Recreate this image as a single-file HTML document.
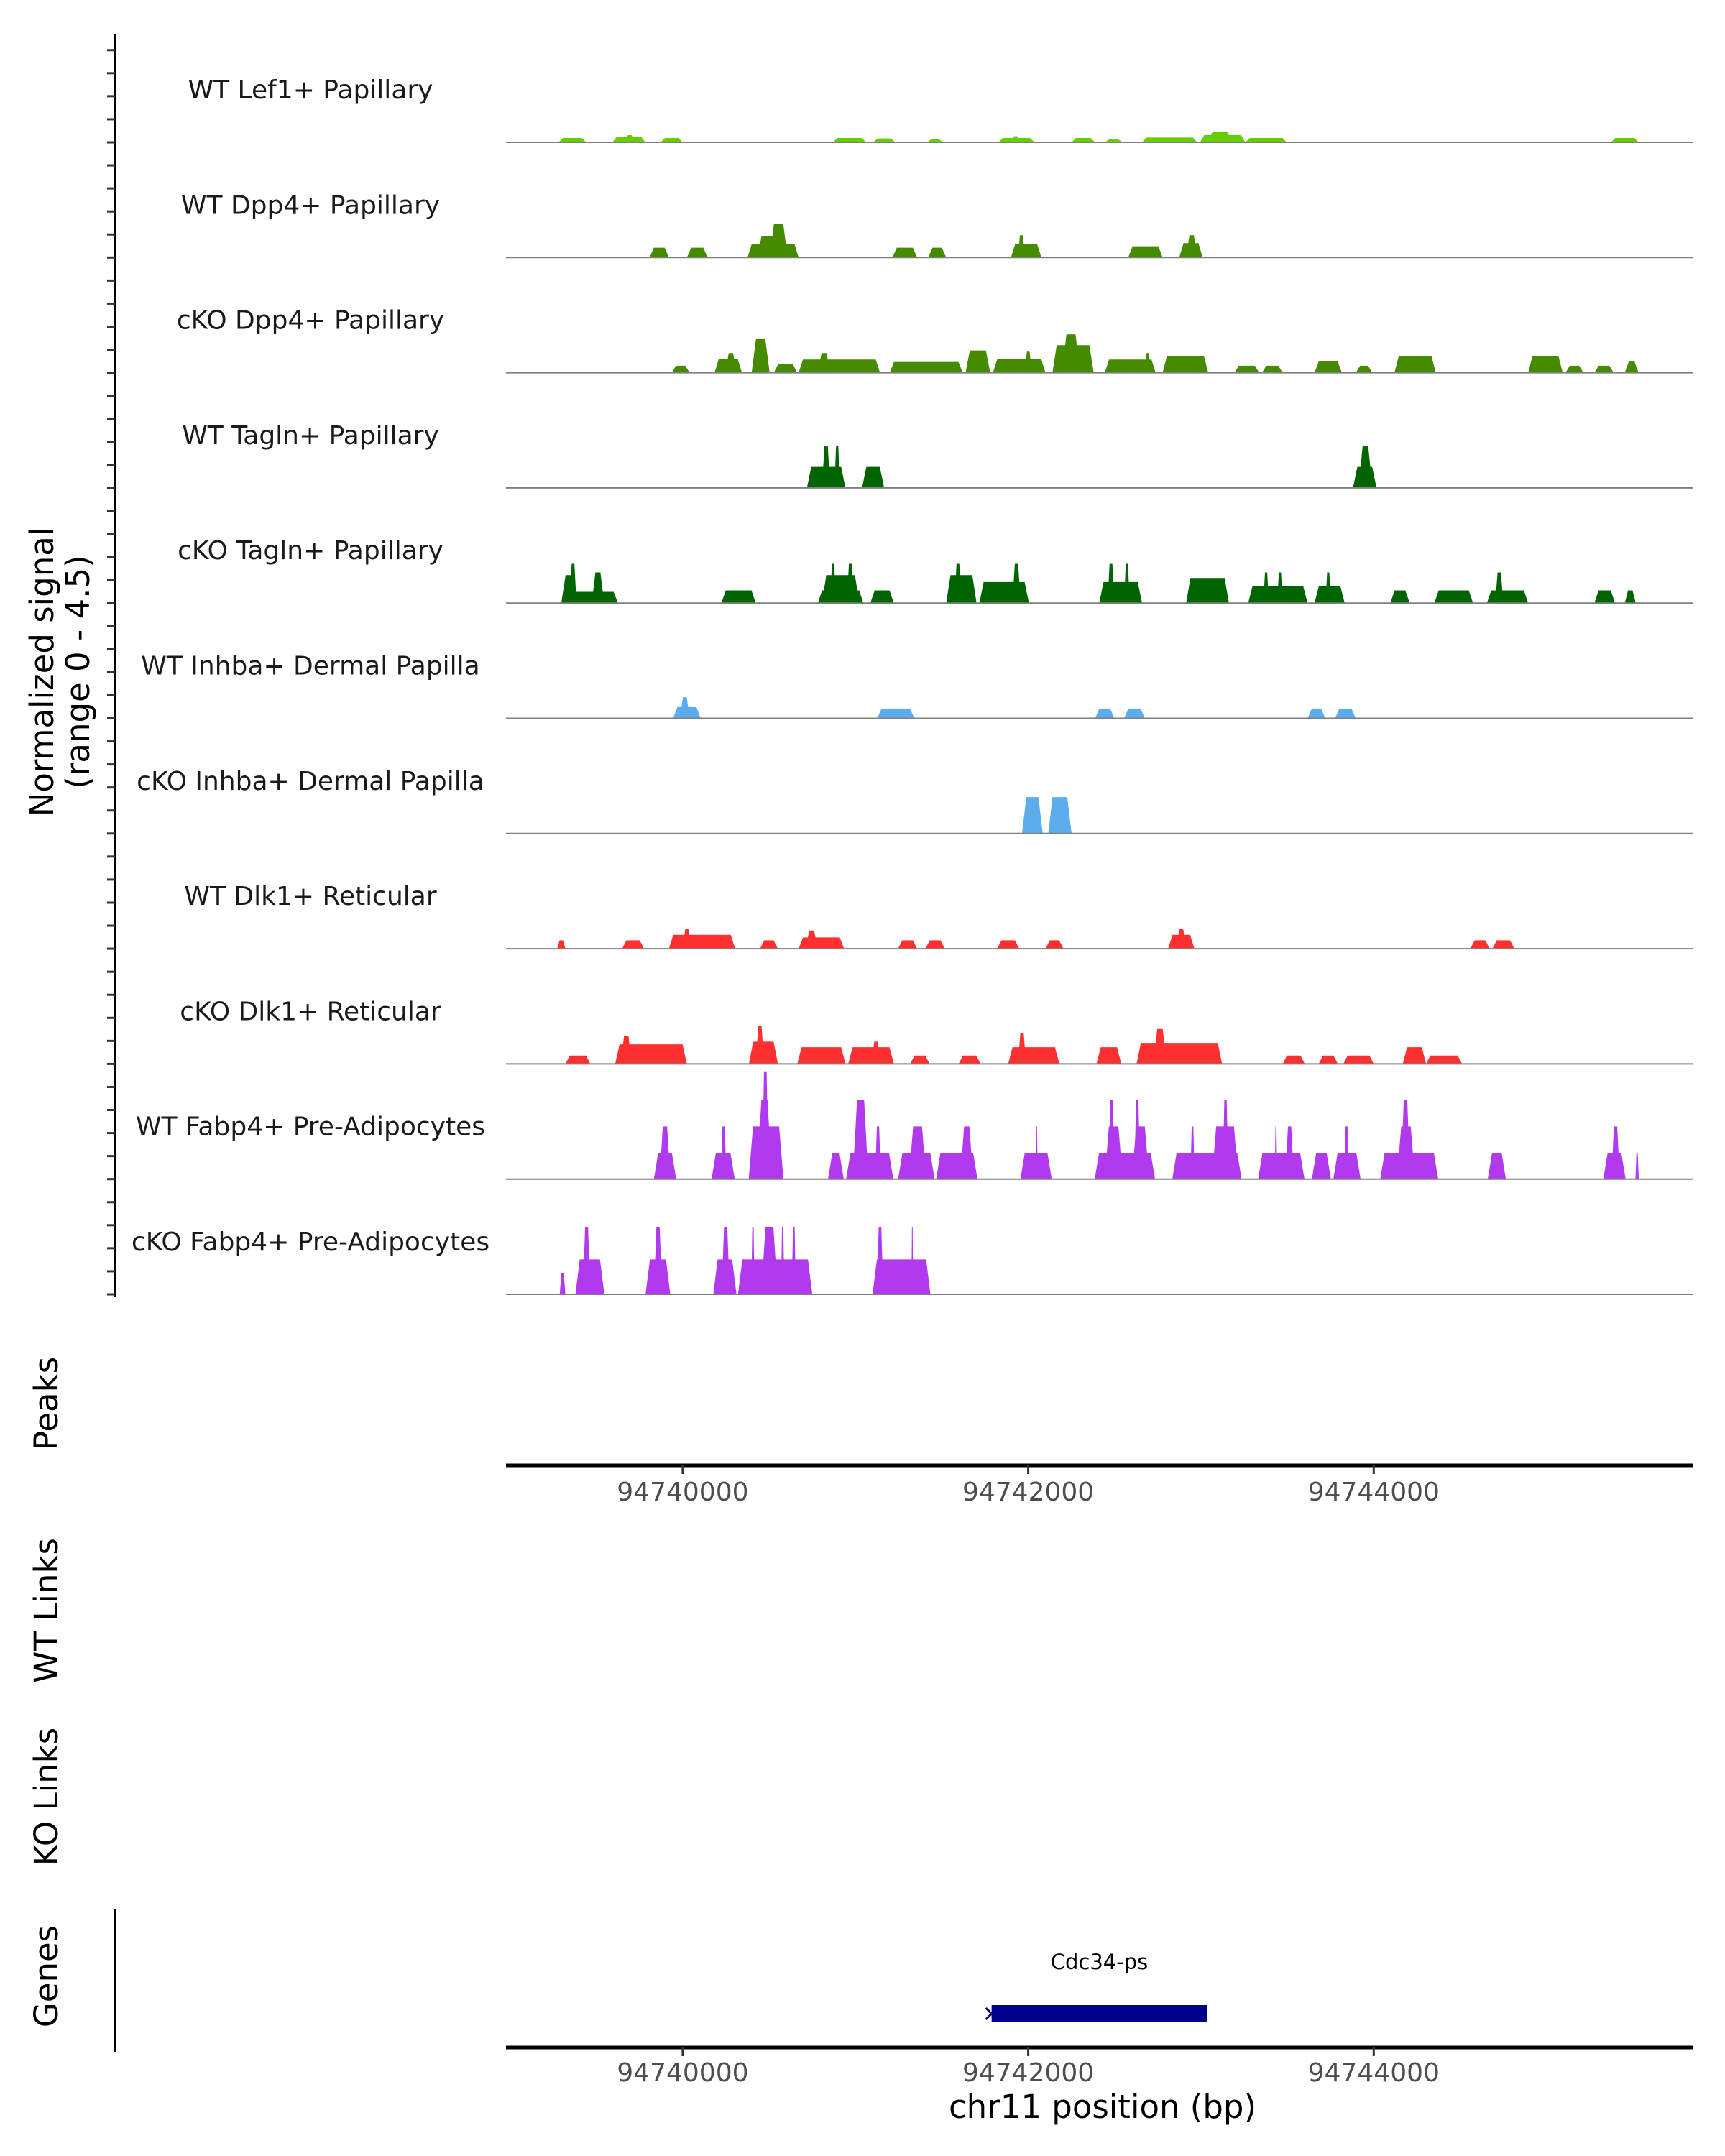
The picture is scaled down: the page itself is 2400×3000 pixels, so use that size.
<!DOCTYPE html>
<html><head><meta charset="utf-8">
<style>
html,body{margin:0;padding:0;background:#fff;}
svg{display:block;font-family:"DejaVu Sans","Liberation Sans",sans-serif;}
</style></head>
<body>
<svg id="chart" width="2400" height="3000" viewBox="0 0 2400 3000" xmlns="http://www.w3.org/2000/svg">
<rect width="2400" height="3000" fill="#fff"/>
<g id="yaxis"></g>
<text transform="translate(84,935) rotate(-90)" font-size="45" fill="#000" text-anchor="middle"><tspan x="0" dy="-10">Normalized signal</tspan><tspan x="0" dy="50">(range 0 - 4.5)</tspan></text>
<g id="tracks"></g>
<text transform="translate(80,1953) rotate(-90)" font-size="45" text-anchor="middle">Peaks</text>
<text transform="translate(80,2241) rotate(-90)" font-size="45" text-anchor="middle">WT Links</text>
<text transform="translate(80,2500) rotate(-90)" font-size="45" text-anchor="middle">KO Links</text>
<text transform="translate(80,2750) rotate(-90)" font-size="45" text-anchor="middle">Genes</text>
<line x1="160" y1="2657" x2="160" y2="2855" stroke="#000" stroke-width="3"/>
<g id="xaxes"></g>
<g id="genes"></g>
<text x="1534" y="2947" font-size="45" text-anchor="middle" fill="#000">chr11 position (bp)</text>
</svg>
<script>
const NS="http://www.w3.org/2000/svg";
const regionStart=94738977, regionEnd=94745846;
const xTicks=[94740000,94742000,94744000];
const trackNames=["WT Lef1+ Papillary","WT Dpp4+ Papillary","cKO Dpp4+ Papillary","WT Tagln+ Papillary","cKO Tagln+ Papillary","WT Inhba+ Dermal Papilla","cKO Inhba+ Dermal Papilla","WT Dlk1+ Reticular","cKO Dlk1+ Reticular","WT Fabp4+ Pre-Adipocytes","cKO Fabp4+ Pre-Adipocytes"];
const trackColors=["#66CD00","#458B00","#458B00","#006400","#006400","#5CACEE","#5CACEE","#FF3030","#FF3030","#B23AEE","#B23AEE"];
// segments: [start offset bp from 94740000, end offset bp, value]
const lef1WT=[[-719,-559,0.18],[-407,-216,0.23],[-335,-279,0.3],[-128,0,0.18],[870,1062,0.18],[1102,1230,0.16],[1413,1509,0.12],[1828,2036,0.18],[1900,1956,0.25],[2251,2387,0.18],[2443,2547,0.12],[2659,2978,0.2],[2994,3257,0.3],[3042,3178,0.45],[3257,3497,0.18],[5373,5533,0.18]];
const dpp4WT=[[-192,-80,0.41],[24,144,0.41],[375,671,0.58],[431,607,0.88],[503,607,1.4],[1214,1357,0.41],[1421,1525,0.41],[1900,2076,0.58],[1940,1980,0.93],[2579,2778,0.47],[2874,3010,0.6],[2914,2978,0.93]];
const dpp4KO=[[-64,40,0.29],[184,343,0.58],[247,311,0.82],[399,503,1.4],[527,663,0.35],[671,1142,0.55],[782,854,0.82],[1198,1621,0.45],[1637,1780,0.93],[1796,2100,0.58],[1980,2020,0.88],[2140,2379,1.15],[2196,2299,1.6],[2443,2738,0.55],[2675,2707,0.82],[2778,3042,0.7],[3194,3337,0.29],[3353,3473,0.29],[3657,3816,0.47],[3896,3992,0.29],[4120,4359,0.7],[4894,5094,0.7],[5110,5214,0.29],[5277,5389,0.29],[5453,5533,0.47]];
const taglnWT=[[719,942,0.88],[806,854,1.75],[878,910,1.75],[1038,1166,0.88],[3880,4016,0.88],[3912,3992,1.75]];
const taglnKO=[[-703,-375,0.47],[-703,-615,1.17],[-655,-615,1.64],[-527,-455,1.28],[224,423,0.53],[782,1046,0.53],[806,1022,1.17],[854,886,1.64],[950,990,1.64],[1086,1222,0.53],[1525,1701,1.17],[1573,1613,1.64],[1717,2004,0.88],[1908,1956,1.64],[2411,2659,0.88],[2459,2499,1.64],[2555,2587,1.64],[2914,3162,1.05],[3273,3617,0.7],[3361,3393,1.28],[3441,3473,1.28],[3657,3832,0.7],[3721,3752,1.28],[4096,4208,0.53],[4351,4575,0.53],[4655,4894,0.53],[4703,4750,1.28],[5277,5397,0.53],[5453,5517,0.53]];
const inhbaWT=[[-56,104,0.47],[-16,40,0.88],[1126,1341,0.41],[2387,2499,0.41],[2555,2675,0.41],[3617,3720,0.41],[3776,3896,0.41]];
const inhbaKO=[[1964,2084,1.52],[2116,2251,1.52]];
const dlk1WT=[[-727,-679,0.35],[-351,-224,0.35],[-80,303,0.58],[0,48,0.82],[447,551,0.35],[671,934,0.47],[711,782,0.76],[1246,1357,0.35],[1405,1517,0.35],[1820,1948,0.35],[2100,2204,0.35],[2810,2962,0.58],[2858,2914,0.82],[4559,4671,0.35],[4687,4814,0.35]];
const dlk1KO=[[-679,-535,0.35],[-391,24,0.82],[-359,-295,1.17],[383,551,0.93],[423,471,1.58],[663,942,0.7],[958,1222,0.7],[1094,1142,0.93],[1317,1429,0.35],[1597,1724,0.35],[1884,2180,0.7],[1940,1988,1.28],[2395,2539,0.7],[2627,3122,0.88],[2723,2802,1.46],[3473,3601,0.35],[3681,3792,0.35],[3824,4000,0.35],[4168,4303,0.7],[4303,4511,0.35]];
const fabp4WT=[[-167,-38,1.1],[-134,-72,2.2],[167,301,1.1],[220,253,2.2],[382,583,2.2],[430,516,3.3],[459,497,4.5],[841,932,1.1],[946,1219,1.1],[984,1075,3.3],[1114,1147,2.2],[1247,1458,1.1],[1309,1410,2.2],[1467,1706,1.1],[1606,1682,2.2],[1955,2136,1.1],[2041,2055,2.2],[2385,2734,1.1],[2442,2547,2.2],[2466,2499,3.3],[2600,2700,2.2],[2614,2648,3.3],[2834,3235,1.1],[2939,2963,2.2],[3063,3216,2.2],[3125,3159,3.3],[3331,3599,1.1],[3427,3441,2.2],[3489,3537,2.2],[3642,3752,1.1],[3766,3924,1.1],[3828,3857,2.2],[4038,4373,1.1],[4134,4239,2.2],[4158,4210,3.3],[4660,4765,1.1],[5329,5458,1.1],[5376,5424,2.2],[5515,5534,1.1]];
const fabp4KO=[[-712,-679,0.9],[-621,-454,1.46],[-578,-535,2.8],[-215,-72,1.46],[-167,-119,2.8],[177,311,1.46],[225,272,2.8],[320,750,1.46],[397,416,2.8],[454,550,2.8],[569,588,2.8],[631,655,2.8],[1099,1434,1.46],[1123,1161,2.8],[1324,1334,2.8]];
const trackData=[lef1WT,dpp4WT,dpp4KO,taglnWT,taglnKO,inhbaWT,inhbaKO,dlk1WT,dlk1KO,fabp4WT,fabp4KO];
const geneName="Cdc34-ps", geneStart=94741788, geneEnd=94743035;

const plotL=704, plotR=2355, base0=198, trackStep=160.3, trackH=150, yMax=4.5;
function xS(bp){return plotL+(bp-regionStart)/(regionEnd-regionStart)*(plotR-plotL);}
function yS(v,i){return base0+i*trackStep - v/yMax*trackH;}
function mk(tag,attrs,parent){const e=document.createElementNS(NS,tag);for(const k in attrs)e.setAttribute(k,attrs[k]);parent.appendChild(e);return e;}

const ya=document.getElementById('yaxis');
const ax=mk('line',{x1:160,y1:48,x2:160,y2:1805,stroke:'#000','stroke-width':3},ya);


for(let k=-4;k<=50;k++){
  const y=base0+k*trackStep/5;
  const t=mk('line',{x1:149,y1:y,x2:160,y2:y,stroke:'#333','stroke-width':3},ya);
  
  
}

const tg=document.getElementById('tracks');
trackData.forEach((segs,i)=>{
  const g=mk('g',{},tg);
  
  
  const lb=mk('text',{x:432,y:base0+i*trackStep-71,'font-size':36,'text-anchor':'middle','dominant-baseline':'middle',fill:'#1a1a1a'},g);
  lb.textContent=trackNames[i];
  
  
  segs.forEach(s=>{
    const x0=xS(94740000+s[0]), x1=xS(94740000+s[1]);
    const yb=base0+i*trackStep, yt=yS(s[2],i);
    const r=Math.min((x1-x0)*0.3,6);
    const p=mk('polygon',{points:`${x0},${yb} ${x0+r},${yt} ${x1-r},${yt} ${x1},${yb}`,fill:trackColors[i]},g);
    
    
  });
  const bl=mk('line',{x1:plotL,y1:base0+i*trackStep,x2:plotR,y2:base0+i*trackStep,stroke:'#7f7f7f','stroke-width':2},g);
  
  
});

const xa=document.getElementById('xaxes');
[[2039,2088],[2849,2896]].forEach((a,j)=>{
  const l=mk('line',{x1:plotL,y1:a[0],x2:plotR,y2:a[0],stroke:'#000','stroke-width':5},xa);
  
  
  xTicks.forEach(v=>{
    const x=xS(v);
    const t=mk('line',{x1:x,y1:a[0],x2:x,y2:a[0]+12,stroke:'#333','stroke-width':3},xa);
    
    
    const tx=mk('text',{x:x,y:a[1],'font-size':36,'text-anchor':'middle',fill:'#4d4d4d'},xa);
    tx.textContent=String(v);
    
    
  });
});

const gg=document.getElementById('genes');
const gx0=xS(geneStart), gx1=xS(geneEnd);
const gr=mk('rect',{x:gx0,y:2790,width:gx1-gx0,height:24,fill:'#00008B'},gg);


const ga=mk('path',{d:`M${gx0-8},2794 L${gx0},2802 L${gx0-8},2810`,stroke:'#00008B','stroke-width':3,fill:'none'},gg);


const gt=mk('text',{x:(gx0+gx1)/2,y:2740,'font-size':29,'text-anchor':'middle',fill:'#000'},gg);
gt.textContent=geneName;


</script>
</body></html>
